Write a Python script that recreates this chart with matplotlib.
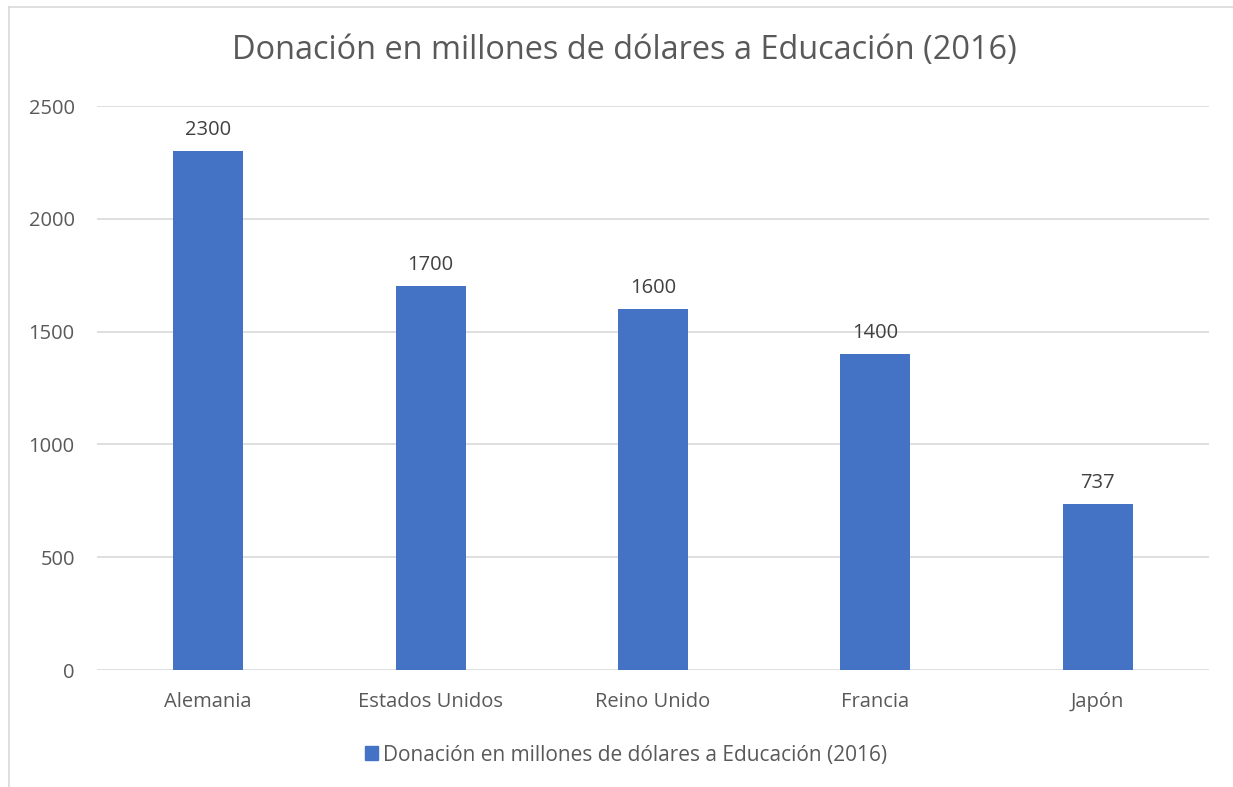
import matplotlib.pyplot as plt
from matplotlib.lines import Line2D
from matplotlib.patches import Patch

categories = ["Alemania", "Estados Unidos", "Reino Unido", "Francia", "Japón"]
values = [2300, 1700, 1600, 1400, 737]
yticks = [0, 500, 1000, 1500, 2000, 2500]
title = "Donación en millones de dólares a Educación (2016)"

bar_color = "#4472C4"
text_color = "#595959"
grid_color = "#D9D9D9"

plt.rcParams['font.family'] = ['Open Sans', 'DejaVu Sans']

fig = plt.figure(figsize=(12.33, 7.87), dpi=100)
ax = fig.add_axes([97 / 1233, 1 - 670 / 787, (1209 - 97) / 1233, (670 - 106) / 787])

x = range(len(categories))
bars = ax.bar(x, values, width=0.315, color=bar_color, zorder=3)

for rect, v in zip(bars, values):
    ax.annotate(str(v), (rect.get_x() + rect.get_width() / 2, v),
                xytext=(0, 8), textcoords='offset points',
                ha='center', va='bottom', fontsize=14.5, color="#404040")

ax.set_xlim(-0.5, len(categories) - 0.5)
ax.set_ylim(0, 2500)
ax.set_yticks(yticks)
ax.set_xticks(list(x))
ax.set_xticklabels(categories)
ax.tick_params(axis='both', length=0, labelsize=14.5, labelcolor=text_color)
ax.tick_params(axis='y', pad=16)
ax.tick_params(axis='x', pad=16)
ax.yaxis.grid(True, color=grid_color, linewidth=1.2, zorder=0)
for s in ax.spines.values():
    s.set_visible(False)

fig.text(624 / 1233, 1 - 50 / 787, title, ha='center', va='center',
         fontsize=23.4, color=text_color)

handle = Patch(color=bar_color)
fig.legend([handle], [title], loc='center', bbox_to_anchor=(626 / 1233, 1 - 755 / 787),
           frameon=False, fontsize=15, handlelength=0.65, handleheight=0.65,
           handletextpad=0.25, labelcolor=text_color)

# chart border (top and left visible in the reference)
fig.add_artist(Line2D([9 / 1233, 9 / 1233], [0, 1 - 7 / 787], color="#D9D9D9", linewidth=1.2))
fig.add_artist(Line2D([9 / 1233, 1], [1 - 7 / 787, 1 - 7 / 787], color="#D9D9D9", linewidth=1.2))

fig.savefig("out.png", dpi=100)
